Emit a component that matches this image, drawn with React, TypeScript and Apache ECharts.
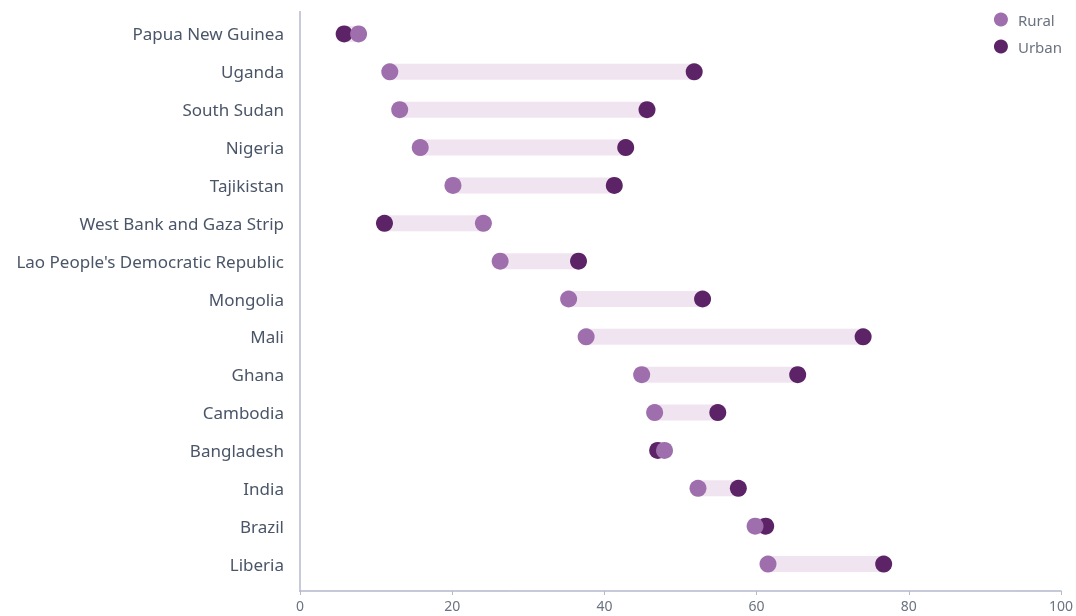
import React, { useEffect, useRef } from "react";
import * as echarts from "echarts";

const countries = [
  "Papua New Guinea",
  "Uganda",
  "South Sudan",
  "Nigeria",
  "Tajikistan",
  "West Bank and Gaza Strip",
  "Lao People's Democratic Republic",
  "Mongolia",
  "Mali",
  "Ghana",
  "Cambodia",
  "Bangladesh",
  "India",
  "Brazil",
  "Liberia",
];
const rural = [7.7, 11.8, 13.1, 15.8, 20.1, 24.1, 26.3, 35.3, 37.6, 44.9, 46.6, 47.9, 52.3, 59.8, 61.5];
const urban = [5.8, 51.8, 45.6, 42.8, 41.3, 11.1, 36.6, 52.9, 74.0, 65.4, 54.9, 47.0, 57.6, 61.2, 76.7];
const xTicks = [0, 20, 40, 60, 80, 100];

const RURAL_COLOR = "#9e6ead";
const URBAN_COLOR = "#5c2366";
const BAR_COLOR = "#f0e4f0";
const AXIS_COLOR = "#b4b9cc";
const LABEL_COLOR = "#4a5568";
const FONT = "'Noto Sans', sans-serif";

export default function App() {
  const ref = useRef<HTMLDivElement>(null);
  useEffect(() => {
    if (!ref.current) return;
    const chart = echarts.init(ref.current, undefined, { renderer: "svg" });
    const base = countries.map((_, i) => Math.min(rural[i], urban[i]));
    const span = countries.map((_, i) => Math.abs(rural[i] - urban[i]));
    chart.setOption({
      animation: false,
      textStyle: { fontFamily: FONT },
      grid: { left: 300, right: 13, top: 15, bottom: 33, containLabel: false },
      legend: {
        data: ["Rural", "Urban"],
        orient: "vertical",
        right: 9,
        top: 7,
        icon: "circle",
        itemWidth: 14,
        itemHeight: 14,
        itemGap: 12,
        textStyle: { color: "#6b7280", fontSize: 15, fontFamily: FONT, padding: [0, 0, 0, 5] },
      },
      xAxis: {
        type: "value",
        min: xTicks[0],
        max: xTicks[xTicks.length - 1],
        interval: 20,
        offset: 8,
        splitLine: { show: false },
        axisLine: { show: true, lineStyle: { color: AXIS_COLOR, width: 1.5 } },
        axisTick: { show: true, length: 4, lineStyle: { color: AXIS_COLOR } },
        axisLabel: { color: "#6b7280", fontSize: 14, margin: 7, fontFamily: FONT },
      },
      yAxis: {
        type: "category",
        data: countries,
        inverse: true,
        axisLine: { show: false },
        axisTick: { show: false },
        axisLabel: { color: LABEL_COLOR, fontSize: 17, margin: 16, fontFamily: FONT },
      },
      graphic: [
        {
          type: "line",
          shape: { x1: 300, y1: 11, x2: 300, y2: 592 },
          style: { stroke: AXIS_COLOR, lineWidth: 1.5 },
          silent: true,
        },
      ],
      series: [
        {
          type: "bar",
          stack: "range",
          data: base,
          barWidth: 16,
          itemStyle: { color: "transparent" },
          silent: true,
        },
        {
          type: "bar",
          stack: "range",
          data: span,
          barWidth: 16,
          itemStyle: { color: BAR_COLOR },
          silent: true,
        },
        {
          name: "Urban",
          type: "scatter",
          data: urban.map((v, i) => [v, countries[i]]),
          symbolSize: 17,
          itemStyle: { color: URBAN_COLOR, opacity: 1 },
          z: 3,
        },
        {
          name: "Rural",
          type: "scatter",
          data: rural.map((v, i) => [v, countries[i]]),
          symbolSize: 17,
          itemStyle: { color: RURAL_COLOR, opacity: 1 },
          z: 4,
        },
      ],
    });
    return () => chart.dispose();
  }, []);
  return (
    <div
      ref={ref}
      style={{ position: "fixed", left: 0, top: 0, width: 1076, height: 616 }}
    />
  );
}
